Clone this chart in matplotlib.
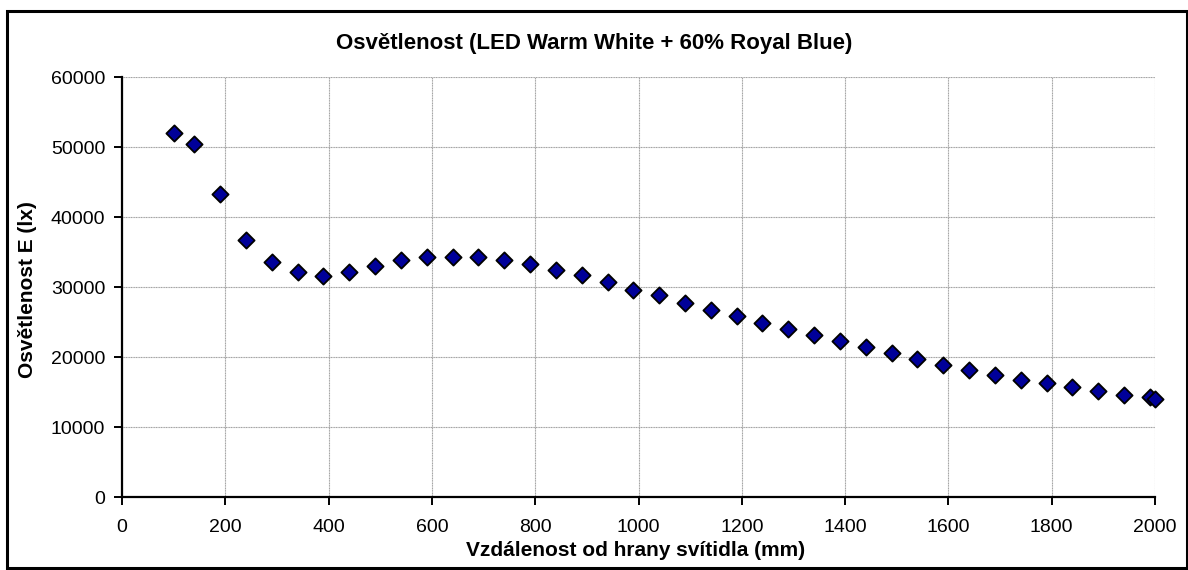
import matplotlib.pyplot as plt
from matplotlib.patches import Rectangle

plt.rcParams['font.family'] = ['Liberation Sans', 'DejaVu Sans']

# distance from the luminaire edge (mm)
distance = [100, 140, 190, 240, 290, 340, 390, 440, 490, 540, 590, 640, 690, 740,
            790, 840, 890, 940, 990, 1040, 1090, 1140, 1190, 1240, 1290, 1340, 1390,
            1440, 1490, 1540, 1590, 1640, 1690, 1740, 1790, 1840, 1890, 1940, 1990, 2000]
# illuminance (lx)
illuminance = [52000, 50470, 43330, 36760, 33610, 32180, 31610, 32180, 33040, 33900,
               34280, 34280, 34280, 33900, 33330, 32470, 31660, 30760, 29610, 28800,
               27660, 26760, 25900, 24800, 23940, 23090, 22230, 21370, 20510, 19660,
               18800, 18190, 17370, 16760, 16230, 15660, 15090, 14510, 14230, 13940]

W, H = 1188, 570
fig = plt.figure(figsize=(W / 100, H / 100), dpi=100)
ax = fig.add_axes([122 / W, 1 - 497 / H, (1155 - 122) / W, (497 - 77) / H])

ax.scatter(distance, illuminance, marker='D', s=68, c='#000099',
           edgecolors='black', linewidths=1.3, zorder=3, clip_on=False)

ax.set_xlim(0, 2000)
ax.set_ylim(0, 60000)
ax.set_xticks(range(0, 2001, 200))
ax.set_yticks(range(0, 60001, 10000))
ax.grid(True, color='#a0a0a0', linewidth=0.8, linestyle=(0, (1, 0.5)))
ax.set_axisbelow(True)

for s in ['top', 'right']:
    ax.spines[s].set_visible(False)
for s in ['left', 'bottom']:
    ax.spines[s].set_linewidth(1.6)
ax.tick_params(direction='out', length=6, width=1.4, labelsize=14, pad=6)
ax.tick_params(axis='x', pad=10)

fig.text(594 / W, 1 - 44 / H, 'Osvětlenost (LED Warm White + 60% Royal Blue)',
         ha='center', va='center', fontsize=16, fontweight='bold')
fig.text(636 / W, 1 - 551 / H, 'Vzdálenost od hrany svítidla (mm)',
         ha='center', va='center', fontsize=15, fontweight='bold')
fig.text(28 / W, 1 - 290 / H, 'Osvětlenost E (lx)', rotation=90,
         ha='center', va='center', fontsize=15, fontweight='bold')

fig.patches.append(Rectangle((7 / W, 1 - 568 / H), (1187 - 7) / W, (568 - 11) / H,
                             transform=fig.transFigure, fill=False,
                             edgecolor='black', linewidth=2.2))

fig.savefig('out.png', dpi=100)
